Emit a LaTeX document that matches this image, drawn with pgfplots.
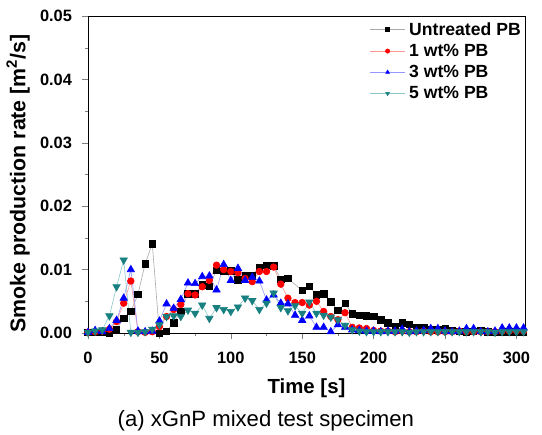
\documentclass[border=0pt]{standalone}
\usepackage{fontspec}
\setmainfont{Liberation Sans}
\usepackage{pgfplots}
\pgfplotsset{compat=1.18}
\usepackage{pgfplotstable}
\definecolor{tealc}{RGB}{24,128,128}
\definecolor{teall}{RGB}{140,200,200}
\definecolor{redl}{RGB}{255,150,150}
\definecolor{bluel}{RGB}{150,150,255}
\definecolor{grayl}{RGB}{170,170,170}

\pgfplotstableread{
t y
0 0.0001
5 0.0001
10 0.0001
15 0.0000
20 0.0006
25 0.0023
30 0.0034
35 0.0061
40 0.0109
45 0.0141
50 0.0000
55 0.0003
60 0.0016
65 0.0034
70 0.0062
75 0.0062
80 0.0076
85 0.0074
90 0.0099
95 0.0097
100 0.0098
105 0.0084
110 0.0091
115 0.0090
120 0.0104
125 0.0107
130 0.0106
135 0.0085
140 0.0086
150 0.0067
155 0.0074
160 0.0060
165 0.0062
170 0.0049
175 0.0036
180 0.0047
185 0.0030
190 0.0028
195 0.0027
200 0.0026
205 0.0021
210 0.0016
215 0.0010
220 0.0016
225 0.0014
230 0.0009
235 0.0008
240 0.0006
245 0.0005
250 0.0007
255 0.0004
260 0.0003
265 0.0002
270 0.0003
275 0.0004
280 0.0002
285 0.0001
290 0.0002
295 0.0002
300 0.0002
305 0.0001
}\untreated

\pgfplotstableread{
t y
0 0.0001
5 0.0002
10 0.0003
15 0.0006
20 0.0018
25 0.0047
30 0.0082
35 0.0002
40 0.0001
45 0.0002
50 0.0010
55 0.0026
60 0.0037
65 0.0045
70 0.0062
75 0.0060
80 0.0073
85 0.0083
90 0.0107
95 0.0100
100 0.0097
105 0.0095
110 0.0086
115 0.0081
120 0.0097
125 0.0097
130 0.0104
135 0.0077
140 0.0055
145 0.0048
150 0.0048
155 0.0044
160 0.0050
165 0.0034
170 0.0026
175 0.0021
180 0.0032
185 0.0009
190 0.0008
195 0.0007
200 0.0004
205 0.0003
210 0.0003
215 0.0002
220 0.0003
225 0.0002
230 0.0002
235 0.0003
240 0.0002
245 0.0002
250 0.0002
255 0.0002
260 0.0003
265 0.0002
270 0.0002
275 0.0002
280 0.0002
285 0.0002
290 0.0003
295 0.0003
300 0.0003
305 0.0003
}\onewt

\pgfplotstableread{
t y
0 0.0001
5 0.0004
10 0.0002
15 0.0007
20 0.0020
25 0.0055
30 0.0100
35 0.0003
40 0.0002
45 0.0003
50 0.0019
55 0.0046
60 0.0039
65 0.0053
70 0.0079
75 0.0078
80 0.0089
85 0.0090
90 0.0068
95 0.0108
100 0.0083
105 0.0102
110 0.0083
115 0.0088
120 0.0082
125 0.0052
130 0.0060
135 0.0047
140 0.0046
145 0.0028
150 0.0020
155 0.0027
160 0.0009
165 0.0009
170 0.0002
175 0.0013
180 0.0009
185 0.0005
190 0.0004
195 0.0003
200 0.0003
205 0.0002
210 0.0003
215 0.0003
220 0.0006
225 0.0002
230 0.0003
235 0.0004
240 0.0007
245 0.0007
250 0.0003
255 0.0002
260 0.0003
265 0.0007
270 0.0007
275 0.0002
280 0.0002
285 0.0003
290 0.0008
295 0.0008
300 0.0008
305 0.0008
}\threewt

\pgfplotstableread{
t y
0 0.0001
5 0.0003
10 0.0005
15 0.0027
20 0.0073
25 0.0115
30 0.0001
35 0.0001
40 0.0002
45 0.0006
50 0.0013
55 0.0026
60 0.0027
65 0.0026
70 0.0036
75 0.0031
80 0.0044
85 0.0023
90 0.0040
95 0.0037
100 0.0034
105 0.0041
110 0.0055
115 0.0051
120 0.0037
125 0.0047
130 0.0063
135 0.0040
140 0.0035
145 0.0043
150 0.0031
155 0.0049
160 0.0031
165 0.0028
170 0.0025
175 0.0021
180 0.0012
185 0.0005
190 0.0003
195 0.0002
200 0.0002
205 0.0002
210 0.0002
215 0.0002
220 0.0002
225 0.0001
230 0.0002
235 0.0002
240 0.0002
245 0.0002
250 0.0002
255 0.0002
260 0.0002
265 0.0002
270 0.0002
275 0.0002
280 0.0002
285 0.0001
290 0.0002
295 0.0002
300 0.0002
305 0.0002
}\fivewt

\begin{document}
\begin{tikzpicture}
\begin{axis}[
  name=ax,
  scale only axis,
  width=327.75pt, height=237.75pt,
  xmin=0, xmax=306, ymin=0, ymax=0.05,
  xtick={0,50,...,300},
  minor xtick={25,75,...,275},
  ytick={0,0.01,...,0.05},
  minor ytick={0.005,0.015,...,0.045},
  tick pos=left,
  tick align=outside,
  major tick length=4.5pt,
  minor tick length=2.5pt,
  /pgf/number format/assume math mode=true,
  yticklabel style={/pgf/number format/fixed,/pgf/number format/fixed zerofill,/pgf/number format/precision=2, xshift=-4pt},
  scaled y ticks=false,
  ticklabel style={font=\fontsize{12.3}{14}\selectfont\bfseries},
  xticklabel style={anchor=center, yshift=-14.5pt},
  xlabel={Time [s]},
  ylabel={Smoke production rate [m\textsuperscript{2}/s]},
  xlabel style={font=\fontsize{15.3}{17}\selectfont\bfseries, at={(axis description cs:0.5,-0.1735)}, anchor=center},
  ylabel style={font=\fontsize{16}{18}\selectfont\bfseries, at={(axis description cs:-0.160,0.472)}, anchor=center},
  axis line style={thin},
  clip=false,
  legend style={at={(rel axis cs:1,1)}, anchor=north east, font=\fontsize{13.2}{15}\selectfont\bfseries,
    draw=none, fill=none, row sep=2.2pt, inner xsep=0pt, inner ysep=3pt, legend cell align=left,
    nodes={inner xsep=3pt, inner ysep=1.5pt}},
  legend image code/.code={
    \draw[#1] (0pt,0pt) -- (26pt,0pt);
    \path[#1, mark size=1.6pt] plot coordinates {(13pt,0pt)};
  },
  every axis plot/.append style={line width=0.45pt},
]
\addplot[color=grayl, mark=square*, mark size=2.4pt, mark options={draw=black, fill=black}] table[x=t,y=y] {\untreated};
\addlegendentry{Untreated PB}
\addplot[color=redl, mark=*, mark size=2.5pt, mark options={draw=red, fill=red}] table[x=t,y=y] {\onewt};
\addlegendentry{1 wt\% PB}
\addplot[color=bluel, mark=triangle*, mark size=3.2pt, mark options={draw=blue, fill=blue}] table[x=t,y=y] {\threewt};
\addlegendentry{3 wt\% PB}
\addplot[color=teall, mark=triangle*, mark size=3.2pt, mark options={draw=tealc, fill=tealc, rotate=180}] table[x=t,y=y] {\fivewt};
\addlegendentry{5 wt\% PB}
\node[font=\fontsize{16.6}{18}\selectfont, anchor=center] at (axis description cs:0.407,-0.2776) {(a) xGnP mixed test specimen};
\end{axis}
\pgfresetboundingbox
\useasboundingbox ([xshift=-66pt,yshift=-76.5pt]ax.south west) rectangle ([xshift=12.75pt,yshift=12pt]ax.north east);
\end{tikzpicture}
\end{document}
